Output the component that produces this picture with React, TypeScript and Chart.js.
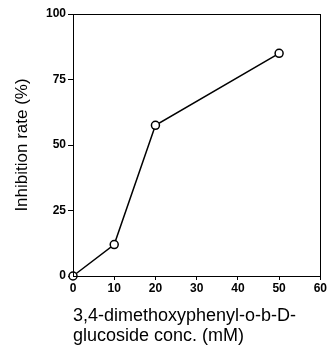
import React, { useEffect, useRef } from "react";
import { Chart, registerables } from "chart.js";

Chart.register(...registerables);

const concentrations = [0, 10, 20, 50];
const inhibitionRates = [0, 12, 57.5, 85];
const xTitleLines = ["3,4-dimethoxyphenyl-o-b-D-", "glucoside conc. (mM)"];
const yTitle = "Inhibition rate (%)";

const frame = {
  id: "frame",
  afterDatasetsDraw(chart: any) {
    const { ctx, chartArea: a } = chart;
    ctx.save();
    ctx.strokeStyle = "#000";
    ctx.lineWidth = 1;
    ctx.strokeRect(Math.round(a.left) + 0.5, Math.round(a.top) + 0.5, Math.round(a.right - a.left), Math.round(a.bottom - a.top));
    ctx.restore();
  },
};

export default function App() {
  const ref = useRef<HTMLCanvasElement | null>(null);
  useEffect(() => {
    document.body.style.margin = "0";
    const tickFont = { family: "'Liberation Sans', Arial, sans-serif", size: 12, weight: "bold" as const };
    const xTitleFont = { family: "'Liberation Sans', Arial, sans-serif", size: 18, lineHeight: 1.11 };
    const yTitleFont = { family: "'Liberation Sans', Arial, sans-serif", size: 17, lineHeight: 1.2 };
    const chart = new Chart(ref.current!, {
      type: "line",
      data: {
        datasets: [
          {
            data: concentrations.map((x, i) => ({ x, y: inhibitionRates[i] })),
            borderColor: "#000",
            borderWidth: 1.5,
            pointRadius: 4,
            pointBorderWidth: 1.5,
            pointBackgroundColor: "#fff",
            pointBorderColor: "#000",
            tension: 0,
            clip: false as any,
          },
        ],
      },
      options: {
        animation: false,
        responsive: false,
        maintainAspectRatio: false,
        layout: { padding: { left: 0, top: 14, right: 7, bottom: 0 } },
        plugins: { legend: { display: false }, tooltip: { enabled: false } },
        scales: {
          x: {
            type: "linear",
            min: 0,
            max: 60,
            ticks: { stepSize: 10, color: "#000", font: tickFont, padding: 1, maxRotation: 0 },
            grid: { display: true, drawOnChartArea: false, drawTicks: true, tickLength: 4, color: "#000" },
            border: { display: true, color: "#000", width: 1 },
            title: {
              display: true,
              text: xTitleLines,
              align: "start",
              color: "#000",
              font: xTitleFont,
              padding: { top: 0, bottom: 0 },
            },
            afterFit(scale: any) {
              scale.height = 70;
            },
          },
          y: {
            type: "linear",
            min: 0,
            max: 100,
            ticks: { stepSize: 25, color: "#000", font: tickFont, padding: 2 },
            grid: { display: true, drawOnChartArea: false, drawTicks: true, tickLength: 5, color: "#000" },
            border: { display: true, color: "#000", width: 1 },
            title: {
              display: true,
              text: yTitle,
              color: "#000",
              font: yTitleFont,
              padding: { top: 12, bottom: 0 },
            },
            afterFit(scale: any) {
              scale.width = 73;
            },
          },
        },
      },
      plugins: [frame],
    });
    return () => chart.destroy();
  }, []);
  return (
    <div style={{ width: 328, height: 346, background: "#fff" }}>
      <canvas ref={ref} width={328} height={346} style={{ display: "block" }} />
    </div>
  );
}
